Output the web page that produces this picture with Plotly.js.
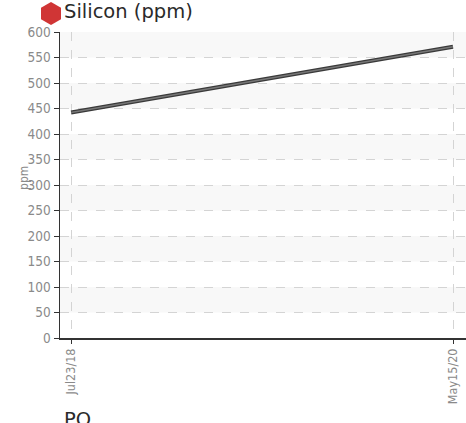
<!DOCTYPE html>
<html><head><meta charset="utf-8">
<script src="https://cdn.plot.ly/plotly-3.0.1.min.js"></script>
<style>html,body{margin:0;padding:0;background:#fff;}#chart{width:466px;height:423px;}</style>
</head><body><div id="chart"></div>
<script>
const dates = ["Jul23/18", "May15/20"];
const silicon = [442, 571];
const yTicks = [0, 50, 100, 150, 200, 250, 300, 350, 400, 450, 500, 550, 600];
const chartTitle = "Silicon (ppm)";
const yTitle = "ppm";
const nextTitle = "PO";

const shapes = [];
for (let i = 0; i < yTicks.length - 1; i++) {
  if (i % 2 === 1) {
    shapes.push({type:'rect', xref:'paper', yref:'y', x0:0, x1:1, y0:yTicks[i], y1:yTicks[i+1],
      fillcolor:'#f8f8f8', line:{width:0}, layer:'below'});
  }
}
// red hexagon icon beside the title
shapes.push({type:'path', xref:'paper', yref:'paper',
  path:'M -0.02217,1.0980 L 0.00246,1.0792 L 0.00246,1.0417 L -0.02217,1.0229 L -0.0468,1.0417 L -0.0468,1.0792 Z',
  fillcolor:'#d03535', line:{width:0}});

const traces = [
  {x: dates, y: silicon, type:'scatter', mode:'lines', line:{color:'#3a3a3a', width:4}, hoverinfo:'skip'},
  {x: dates, y: silicon, type:'scatter', mode:'lines', line:{color:'#777', width:1.5}, hoverinfo:'skip'}
];

const condensed = '"Liberation Sans Narrow", "DejaVu Sans Condensed", sans-serif';
const yTickFont = {family:condensed, size:13.5, color:'#8a8a8a'};
const xTickFont = {family:condensed, size:12.5, color:'#8a8a8a'};

const layout = {
  width:466, height:423,
  margin:{l:60, r:0, t:32, b:85},
  paper_bgcolor:'#fff', plot_bgcolor:'#fff',
  showlegend:false,
  shapes: shapes,
  xaxis:{type:'category', range:[-0.029, 1.034], tickangle:-90, tickfont:xTickFont,
    showgrid:true, gridcolor:'#d4d4d4', griddash:'dash', gridwidth:1,
    showline:true, linecolor:'#333', linewidth:1.5, ticks:'outside', ticklen:4, tickcolor:'#333',
    zeroline:false, fixedrange:true},
  yaxis:{range:[0,600], tickvals:yTicks, tickfont:yTickFont,
    showgrid:true, gridcolor:'#d4d4d4', griddash:'dash', gridwidth:1,
    showline:true, linecolor:'#333', linewidth:1.5, ticks:'outside', ticklen:5, tickcolor:'#333',
    zeroline:false, fixedrange:true},
  annotations:[
    {xref:'paper', yref:'paper', x:-0.0887, y:0.523, xanchor:'center', yanchor:'middle', showarrow:false,
      textangle:-90, text:yTitle, font:{family:condensed, size:12, color:'#8a8a8a'}},
    {xref:'paper', yref:'paper', x:0.005, y:1.066, xanchor:'left', yanchor:'middle', showarrow:false,
      text:chartTitle, font:{family:'DejaVu Sans', size:19.5, color:'#2a2a2a'}},
    {xref:'paper', yref:'paper', x:0.005, y:-0.222, xanchor:'left', yanchor:'top', showarrow:false,
      text:nextTitle, font:{family:'DejaVu Sans', size:19.5, color:'#2a2a2a'}}
  ]
};
Plotly.newPlot('chart', traces, layout, {displayModeBar:false, staticPlot:true});
</script></body></html>
